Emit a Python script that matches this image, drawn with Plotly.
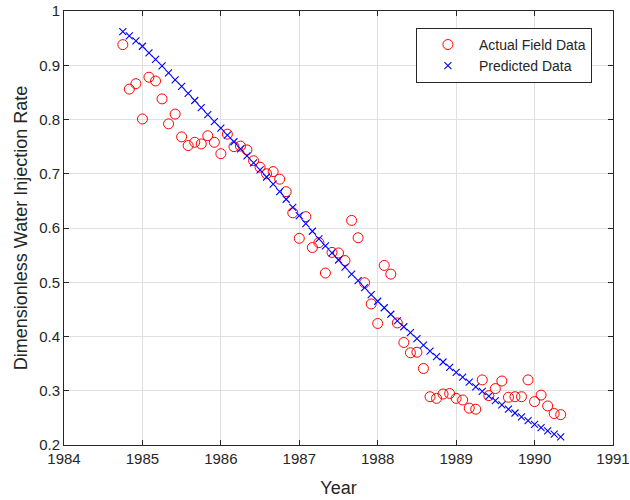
import plotly.graph_objects as go

years = [
    1984.750, 1984.833, 1984.917, 1985.000, 1985.083, 1985.167, 1985.250, 1985.333, 1985.417, 1985.500,
    1985.583, 1985.667, 1985.750, 1985.833, 1985.917, 1986.000, 1986.083, 1986.167, 1986.250, 1986.333,
    1986.417, 1986.500, 1986.583, 1986.667, 1986.750, 1986.833, 1986.917, 1987.000, 1987.083, 1987.167,
    1987.250, 1987.333, 1987.417, 1987.500, 1987.583, 1987.667, 1987.750, 1987.833, 1987.917, 1988.000,
    1988.083, 1988.167, 1988.250, 1988.333, 1988.417, 1988.500, 1988.583, 1988.667, 1988.750, 1988.833,
    1988.917, 1989.000, 1989.083, 1989.167, 1989.250, 1989.333, 1989.417, 1989.500, 1989.583, 1989.667,
    1989.750, 1989.833, 1989.917, 1990.000, 1990.083, 1990.167, 1990.250, 1990.333,
]

actual = [
    0.938, 0.856, 0.866, 0.801, 0.878, 0.871, 0.838, 0.792, 0.810, 0.768,
    0.752, 0.758, 0.755, 0.770, 0.758, 0.737, 0.773, 0.750, 0.751, 0.744,
    0.724, 0.712, 0.700, 0.704, 0.690, 0.667, 0.628, 0.581, 0.621, 0.564,
    0.573, 0.517, 0.555, 0.554, 0.540, 0.614, 0.582, 0.499, 0.460, 0.424,
    0.531, 0.515, 0.425, 0.389, 0.370, 0.371, 0.341, 0.289, 0.286, 0.294,
    0.295, 0.286, 0.283, 0.268, 0.266, 0.320, 0.291, 0.304, 0.318, 0.288,
    0.289, 0.289, 0.320, 0.280, 0.292, 0.272, 0.258, 0.256,
]

predicted = [
    0.962, 0.954, 0.945, 0.935, 0.923, 0.911, 0.899, 0.886, 0.873, 0.861,
    0.848, 0.835, 0.822, 0.809, 0.796, 0.784, 0.771, 0.759, 0.746, 0.733,
    0.720, 0.707, 0.694, 0.681, 0.667, 0.653, 0.638, 0.623, 0.608, 0.594,
    0.580, 0.567, 0.554, 0.541, 0.528, 0.515, 0.503, 0.490, 0.477, 0.465,
    0.453, 0.441, 0.429, 0.418, 0.407, 0.396, 0.384, 0.373, 0.363, 0.353,
    0.343, 0.334, 0.325, 0.316, 0.307, 0.299, 0.290, 0.282, 0.274, 0.266,
    0.259, 0.252, 0.245, 0.238, 0.232, 0.226, 0.220, 0.215,
]

x_ticks = [1984, 1985, 1986, 1987, 1988, 1989, 1990, 1991]
y_ticks = [0.2, 0.3, 0.4, 0.5, 0.6, 0.7, 0.8, 0.9, 1.0]
y_tick_labels = ["0.2", "0.3", "0.4", "0.5", "0.6", "0.7", "0.8", "0.9", "1"]

FONT = "Liberation Sans, Arial, sans-serif"
AX = "#262626"

fig = go.Figure()
fig.add_trace(go.Scatter(
    x=years, y=actual, mode="markers", name="Actual Field Data",
    marker=dict(symbol="circle-open", size=10, color="#ff0000", line=dict(width=1, color="#ff0000")),
))
fig.add_trace(go.Scatter(
    x=years, y=predicted, mode="markers", name="Predicted Data",
    marker=dict(symbol="x-thin-open", size=7, color="#0000ff", line=dict(width=1.1, color="#0000ff")),
))

axis_common = dict(
    showline=True, linecolor=AX, linewidth=1, mirror="ticks",
    ticks="inside", ticklen=5, tickcolor=AX, tickwidth=1,
    showgrid=True, gridcolor="#e0e0e0", gridwidth=1,
    zeroline=False, automargin=False,
    tickfont=dict(family=FONT, size=15, color=AX),
)

fig.update_xaxes(
    range=[1984, 1991], tickvals=x_ticks, ticktext=[str(v) for v in x_ticks],
    title=dict(text="Year", font=dict(family=FONT, size=18, color=AX), standoff=15),
    **axis_common,
)
fig.update_yaxes(
    range=[0.2, 1.0], tickvals=y_ticks, ticktext=y_tick_labels,
    title=dict(text="Dimensionless Water Injection Rate", font=dict(family=FONT, size=18, color=AX), standoff=6),
    **axis_common,
)

fig.update_layout(
    width=630, height=500,
    margin=dict(l=64, r=17, t=11, b=55),
    paper_bgcolor="white", plot_bgcolor="white",
    font=dict(family=FONT, color=AX),
    legend=dict(
        x=0.641, y=0.961, xanchor="left", yanchor="top",
        bgcolor="white", bordercolor=AX, borderwidth=1,
        font=dict(family=FONT, size=14, color=AX),
        itemwidth=52, tracegroupgap=0,
    ),
)

fig.write_html("out.html")
